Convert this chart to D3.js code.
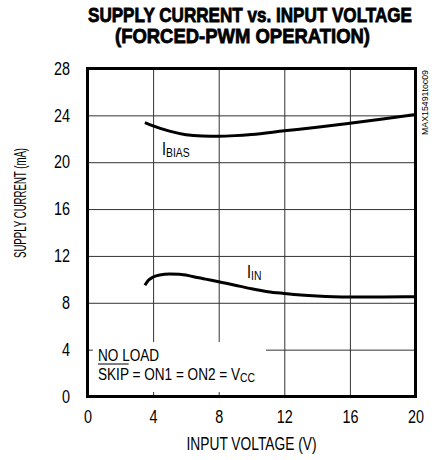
<!DOCTYPE html>
<html>
<head>
<meta charset="utf-8">
<script src="https://cdn.jsdelivr.net/npm/d3@7"></script>
<style>
  html, body { margin: 0; padding: 0; background: #fff; }
  svg { display: block; }
  text { font-family: "Liberation Sans", Arial, sans-serif; fill: #000; }
</style>
</head>
<body>
<svg id="chart" width="432" height="460"></svg>
<script>
// ---- data ----
const xTicks = [0, 4, 8, 12, 16, 20];
const yTicks = [0, 4, 8, 12, 16, 20, 24, 28];
const biasVin = [3.5, 4, 5, 6, 7, 8, 9, 10, 12, 14, 16, 18, 20];
const biasCurrent = [23.38, 23.1, 22.65, 22.35, 22.24, 22.22, 22.27, 22.37, 22.68, 22.98, 23.32, 23.68, 24.08];
const inVin = [3.5, 3.7, 4.0, 4.4, 5.0, 5.6, 6.4, 7.2, 8, 9, 10, 11, 12, 13, 14, 15, 16, 18, 20];
const inCurrent = [9.5, 9.9, 10.2, 10.38, 10.45, 10.44, 10.25, 10.02, 9.8, 9.5, 9.2, 8.95, 8.8, 8.67, 8.58, 8.52, 8.5, 8.5, 8.52];
const titleLines = ["SUPPLY CURRENT vs. INPUT VOLTAGE", "(FORCED-PWM OPERATION)"];
const xLabel = "INPUT VOLTAGE (V)";
const yLabel = "SUPPLY CURRENT (mA)";
const sideTag = "MAX15491toc09";

// ---- layout ----
const svg = d3.select("#chart");
const x = d3.scaleLinear().domain([0, 20]).range([87.5, 415.5]);
const y = d3.scaleLinear().domain([0, 28]).range([396.5, 68.5]);
const W = x(20) - x(0), H = y(0) - y(28);
const SX = 0.8; // horizontal condensing of the narrow typeface

// gridlines
const grid = svg.append("g");
grid.append("g").attr("transform", `translate(0,${y(0)})`)
  .call(d3.axisBottom(x).tickValues(xTicks).tickSize(-H).tickFormat(""))
  .call(g => g.select(".domain").remove())
  .call(g => g.selectAll("line").attr("stroke", "#333").attr("stroke-width", 1));
grid.append("g").attr("transform", `translate(${x(0)},0)`)
  .call(d3.axisLeft(y).tickValues(yTicks).tickSize(-W).tickFormat(""))
  .call(g => g.select(".domain").remove())
  .call(g => g.selectAll("line").attr("stroke", "#333").attr("stroke-width", 1));

// white annotation box covering gridlines
svg.append("rect").attr("x", 93).attr("y", 342).attr("width", 173).attr("height", 50).attr("fill", "#fff");

// curves
const line = d3.line().x(d => x(d[0])).y(d => y(d[1])).curve(d3.curveMonotoneX);
svg.append("path").datum(biasVin.map((v, i) => [v, biasCurrent[i]]))
  .attr("d", line).attr("fill", "none").attr("stroke", "#000").attr("stroke-width", 3);
svg.append("path").datum(inVin.map((v, i) => [v, inCurrent[i]]))
  .attr("d", line).attr("fill", "none").attr("stroke", "#000").attr("stroke-width", 3);

// frame
svg.append("rect").attr("x", x(0)).attr("y", y(28)).attr("width", W).attr("height", H)
  .attr("fill", "none").attr("stroke", "#000").attr("stroke-width", 3);

// tick labels
svg.append("g").attr("transform", `translate(0,${y(0)})`)
  .call(d3.axisBottom(x).tickValues(xTicks).tickSize(0).tickPadding(13.5))
  .call(g => g.select(".domain").remove())
  .call(g => g.selectAll("text").attr("font-size", 18).attr("font-family", null)
    .attr("textLength", d => String(d).length * 8).attr("lengthAdjust", "spacingAndGlyphs"));
svg.append("g").attr("transform", `translate(${x(0)},0)`)
  .call(d3.axisLeft(y).tickValues(yTicks).tickSize(0).tickPadding(17.5))
  .call(g => g.select(".domain").remove())
  .call(g => g.selectAll("text").attr("font-size", 18).attr("font-family", null)
    .attr("textLength", d => String(d).length * 8).attr("lengthAdjust", "spacingAndGlyphs"));

// title
svg.append("text").attr("x", 88).attr("y", 22).attr("font-size", 20).attr("font-weight", "bold")
  .attr("stroke", "#000").attr("stroke-width", 0.8)
  .attr("textLength", 324).attr("lengthAdjust", "spacingAndGlyphs").text(titleLines[0]);
svg.append("text").attr("x", 115).attr("y", 43).attr("font-size", 20).attr("font-weight", "bold")
  .attr("stroke", "#000").attr("stroke-width", 0.8)
  .attr("textLength", 255).attr("lengthAdjust", "spacingAndGlyphs").text(titleLines[1]);

// axis titles
svg.append("text").attr("x", 251.5).attr("y", 450).attr("text-anchor", "middle").attr("font-size", 18)
  .attr("textLength", 130).attr("lengthAdjust", "spacingAndGlyphs").text(xLabel);
svg.append("text").attr("transform", "translate(25.5,203) rotate(-90)").attr("text-anchor", "middle")
  .attr("font-size", 17).attr("textLength", 110).attr("lengthAdjust", "spacingAndGlyphs").text(yLabel);

// side tag
svg.append("text").attr("transform", "translate(427.5,135) rotate(-90)").attr("font-size", 9)
  .attr("textLength", 65).attr("lengthAdjust", "spacingAndGlyphs").text(sideTag);

// series labels (condensed)
const lb = svg.append("text").attr("transform", `translate(162,155) scale(${SX},1)`).attr("font-size", 18);
lb.append("tspan").text("I");
lb.append("tspan").attr("font-size", 13).attr("dy", 1.5).text("BIAS");
const li = svg.append("text").attr("transform", `translate(247,278) scale(${SX},1)`).attr("font-size", 18);
li.append("tspan").text("I");
li.append("tspan").attr("font-size", 13).attr("dy", 1.5).text("IN");

// annotation
svg.append("text").attr("transform", `translate(98,361) scale(${SX},1)`).attr("font-size", 17).text("NO LOAD");
const ann = svg.append("text").attr("transform", `translate(98,380) scale(${SX},1)`).attr("font-size", 17);
ann.append("tspan").text("SKIP = ON1 = ON2 = V");
ann.append("tspan").attr("font-size", 13).attr("dy", 2).text("CC");
const skipW = ann.node().getSubStringLength(0, 4) * SX;
svg.append("line").attr("x1", 98).attr("x2", 98 + skipW).attr("y1", 364).attr("y2", 364)
  .attr("stroke", "#000").attr("stroke-width", 1);
</script>
</body>
</html>
